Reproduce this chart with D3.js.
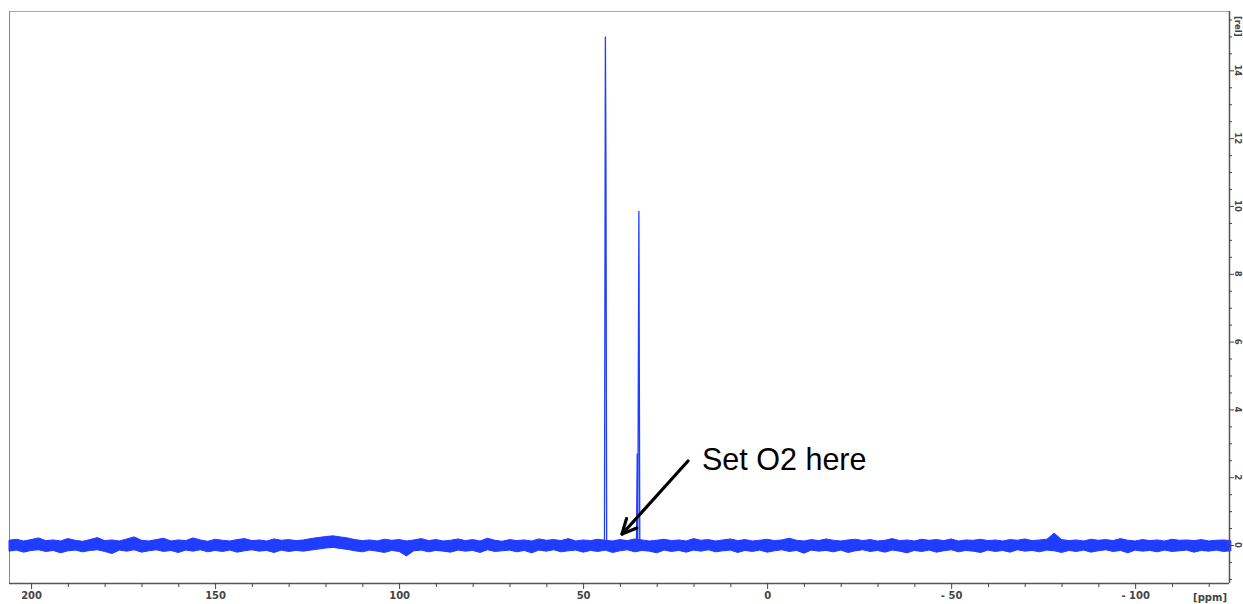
<!DOCTYPE html>
<html><head><meta charset="utf-8">
<script src="https://cdn.jsdelivr.net/npm/d3@7"></script>
<style>html,body{margin:0;padding:0;background:#fff;overflow:hidden}</style>
</head><body>
<svg id="c" width="1243" height="604"></svg>
<script>
// ---- data ----
const xTickMajor = [200, 150, 100, 50, 0, -50, -100];
const xTickLabels = ["200", "150", "100", "50", "0", "- 50", "- 100"];
const yTickMajor = [0, 2, 4, 6, 8, 10, 12, 14];
const yTickLabels = ["0", "2", "4", "6", "8", "10", "12", "14"];
// noise envelope sampled every 2 ppm from 206 ppm downward
const noiseStart = 206, noiseStep = -2;
const noiseHi = [0.14,0.17,0.12,0.16,0.21,0.13,0.15,0.12,0.19,0.14,0.11,0.16,0.22,0.13,0.15,0.12,0.18,0.24,0.14,0.12,
  0.16,0.20,0.12,0.15,0.13,0.21,0.15,0.11,0.17,0.14,0.12,0.16,0.19,0.13,0.15,0.12,0.18,0.14,0.16,0.13,
  0.15,0.19,0.22,0.25,0.27,0.24,0.21,0.16,0.13,0.15,0.12,0.17,0.14,0.16,0.12,0.15,0.19,0.13,0.16,0.12,
  0.14,0.18,0.13,0.16,0.12,0.20,0.14,0.11,0.16,0.13,0.15,0.12,0.18,0.14,0.16,0.13,0.19,0.12,0.15,0.13,
  0.17,0.14,0.12,0.16,0.13,0.18,0.15,0.12,0.14,0.17,0.13,0.15,0.12,0.19,0.14,0.16,0.12,0.15,0.18,0.13,
  0.16,0.12,0.14,0.17,0.13,0.15,0.20,0.14,0.12,0.16,0.13,0.18,0.14,0.12,0.15,0.17,0.13,0.16,0.12,0.14,
  0.19,0.13,0.15,0.12,0.17,0.14,0.16,0.13,0.18,0.12,0.15,0.14,0.17,0.13,0.15,0.12,0.16,0.14,0.18,0.13,
  0.15,0.17,0.35,0.16,0.13,0.15,0.12,0.17,0.14,0.16,0.13,0.19,0.14,0.12,0.16,0.13,0.15,0.12,0.17,0.14,
  0.15,0.13,0.16,0.12,0.14,0.15,0.13];
const noiseLo = [-0.18,-0.15,-0.21,-0.16,-0.14,-0.19,-0.16,-0.23,-0.17,-0.15,-0.20,-0.16,-0.14,-0.19,-0.25,-0.15,-0.18,-0.14,-0.21,-0.17,
  -0.14,-0.19,-0.16,-0.22,-0.15,-0.18,-0.14,-0.20,-0.16,-0.19,-0.15,-0.21,-0.17,-0.14,-0.18,-0.16,-0.22,-0.15,-0.19,-0.16,
  -0.18,-0.15,-0.12,-0.09,-0.07,-0.10,-0.13,-0.17,-0.20,-0.15,-0.18,-0.22,-0.16,-0.19,-0.32,-0.17,-0.15,-0.20,-0.16,-0.18,
  -0.21,-0.15,-0.18,-0.16,-0.22,-0.14,-0.19,-0.17,-0.15,-0.20,-0.16,-0.23,-0.15,-0.18,-0.14,-0.20,-0.17,-0.15,-0.21,-0.16,
  -0.19,-0.15,-0.22,-0.17,-0.14,-0.20,-0.16,-0.18,-0.23,-0.15,-0.19,-0.16,-0.21,-0.15,-0.18,-0.14,-0.20,-0.17,-0.15,-0.22,
  -0.16,-0.19,-0.15,-0.21,-0.17,-0.14,-0.19,-0.16,-0.24,-0.15,-0.18,-0.16,-0.20,-0.15,-0.22,-0.17,-0.14,-0.19,-0.16,-0.21,
  -0.15,-0.18,-0.23,-0.16,-0.19,-0.15,-0.21,-0.17,-0.14,-0.20,-0.16,-0.18,-0.22,-0.15,-0.19,-0.16,-0.21,-0.14,-0.18,-0.16,
  -0.20,-0.15,-0.17,-0.22,-0.16,-0.19,-0.15,-0.21,-0.17,-0.14,-0.19,-0.16,-0.23,-0.15,-0.18,-0.16,-0.20,-0.15,-0.19,-0.17,
  -0.15,-0.21,-0.16,-0.18,-0.15,-0.19,-0.17];
// peaks: [ppm, intensity]
const peak1 = [[44.2,0],[43.95,15.0],[43.8,11.3],[43.6,0]];
const peak2 = [[35.5,0],[35.3,2.7],[35.15,0],[34.85,9.85],[34.6,0]];
const annotation = "Set O2 here";

// ---- layout ----
const svg = d3.select("#c");
const L = 9, R = 1229, T = 11, B = 583;
const x = d3.scaleLinear().domain([206, -125.5]).range([L, R]);
const y = d3.scaleLinear().domain([-1.12, 15.75]).range([B, T]);
const blue = "#1f3cff";

// frame
svg.append("line").attr("x1", L).attr("x2", R).attr("y1", T + 0.5).attr("y2", T + 0.5).attr("stroke", "#aaa");
svg.append("line").attr("x1", L + 0.5).attr("x2", L + 0.5).attr("y1", T).attr("y2", B).attr("stroke", "#888");

// noise band
const noise = noiseHi.map((h, i) => ({ppm: noiseStart + i * noiseStep, hi: h, lo: noiseLo[i]}));
svg.append("path").datum(noise)
  .attr("d", d3.area().x(d => x(d.ppm)).y0(d => y(d.lo)).y1(d => y(d.hi)))
  .attr("fill", blue).attr("stroke", blue).attr("stroke-width", 1);

// peaks
const line = d3.line().x(d => x(d[0])).y(d => y(d[1]));
[peak1, peak2].forEach(p => {
  svg.append("path").datum(p).attr("d", line).attr("fill", "none")
    .attr("stroke", blue).attr("stroke-width", 1.3);
});

// bottom axis
const xAxis = d3.axisBottom(x)
  .tickValues(d3.range(200, -125, -10))
  .tickFormat(d => { const i = xTickMajor.indexOf(d); return i >= 0 ? xTickLabels[i] : ""; })
  .tickSize(4).tickSizeOuter(0);
const gx = svg.append("g").attr("transform", `translate(0,${B})`).call(xAxis);
gx.select(".domain").attr("stroke", "#555").attr("stroke-width", 1.5).attr("d", `M${L},0.5H${R}`);
gx.selectAll(".tick line").attr("stroke", "#444")
  .attr("y2", d => xTickMajor.includes(d) ? 6 : 4);
gx.selectAll(".tick text").attr("font-family", "DejaVu Sans, Verdana, sans-serif")
  .attr("font-size", 10).attr("font-weight", "bold").attr("fill", "#444").attr("dy", "0.9em");
svg.append("text").attr("x", 1227).attr("y", 601).attr("text-anchor", "end")
  .attr("font-family", "DejaVu Sans, Verdana, sans-serif").attr("font-size", 10)
  .attr("font-weight", "bold").attr("fill", "#444").text("[ppm]");

// right axis
const yAxis = d3.axisRight(y)
  .tickValues(d3.range(-1, 15.6, 0.5))
  .tickFormat(() => "")
  .tickSize(3).tickSizeOuter(0);
const gy = svg.append("g").attr("transform", `translate(${R},0)`).call(yAxis);
gy.select(".domain").attr("stroke", "#555").attr("stroke-width", 1.5).attr("d", `M0.5,${T}V${B}`);
gy.selectAll(".tick line").attr("stroke", "#444")
  .attr("x2", d => Number.isInteger(d / 2) ? 5 : 3);
const yl = svg.append("g").attr("font-family", "DejaVu Sans, Verdana, sans-serif")
  .attr("font-size", 8.5).attr("font-weight", "bold").attr("fill", "#444");
yTickMajor.forEach((v, i) => {
  yl.append("text").attr("transform", `translate(1238,${y(v)}) rotate(90)`)
    .attr("text-anchor", "middle").attr("dominant-baseline", "central").text(yTickLabels[i]);
});
yl.append("text").attr("transform", `translate(1238,${y(15.3)}) rotate(90)`)
  .attr("text-anchor", "middle").attr("dominant-baseline", "central").text("[rel]");

// annotation
svg.append("text").attr("x", 702).attr("y", 470)
  .attr("font-family", "Liberation Sans, Arial, sans-serif").attr("font-size", 30.5)
  .attr("fill", "#000").text(annotation);
const ax1 = 688, ay1 = 461, ax2 = 622, ay2 = 534;
svg.append("line").attr("x1", ax1).attr("y1", ay1).attr("x2", ax2 + 2).attr("y2", ay2 - 2)
  .attr("stroke", "#000").attr("stroke-width", 3.2).attr("stroke-linecap", "round");
const ang = Math.atan2(ay1 - ay2, ax1 - ax2);
[0.45, -0.45].forEach(da => {
  svg.append("line").attr("x1", ax2).attr("y1", ay2)
    .attr("x2", ax2 + 16 * Math.cos(ang + da)).attr("y2", ay2 + 16 * Math.sin(ang + da))
    .attr("stroke", "#000").attr("stroke-width", 3.2).attr("stroke-linecap", "round");
});
</script>
</body></html>
